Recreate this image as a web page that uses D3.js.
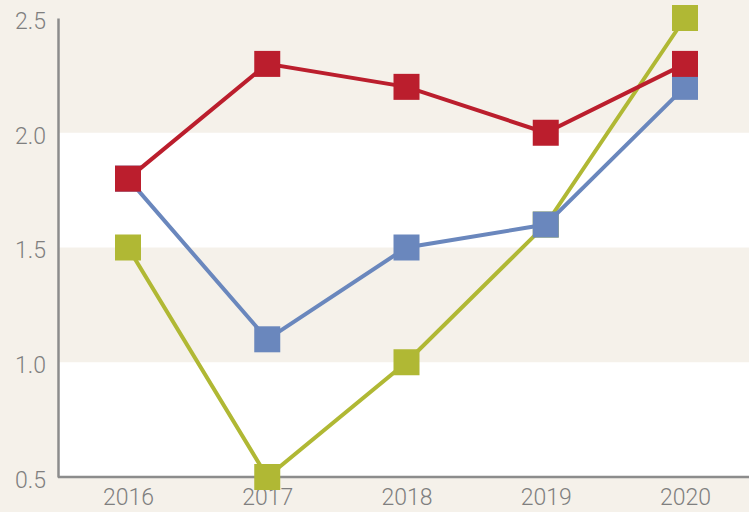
<!DOCTYPE html>
<html lang="en">
<head>
    <meta charset="UTF-8">
    <script src="https://d3js.org/d3.v7.min.js"></script>
    <style>
        body{ margin:0; background:#f5f1ea; }
        text{ font-family: Roboto, sans-serif; font-weight:300; fill:#7f7f7f; }
    </style>
    <title>Chart</title>
</head>
<body>
    <div class="canvas"></div>
</body>
<script>
    const years = ['2016','2017','2018','2019','2020'];
    const redValues = [1.8, 2.3, 2.2, 2.0, 2.3];
    const blueValues = [1.8, 1.1, 1.5, 1.6, 2.2];
    const greenValues = [1.5, 0.5, 1.0, 1.6, 2.5];
    const yTicks = [0.5, 1.0, 1.5, 2.0, 2.5];
    const bands = [[0.5, 1.0], [1.5, 2.0]];

    const width = 749;
    const height = 512;
    const [mt, mb, ml] = [18, 35, 58];
    const graphHeight = height - mt - mb;

    const svg = d3.select('.canvas')
                    .append('svg')
                    .attr('width', width)
                    .attr('height', height)
                    .style('display', 'block');

    const x = d3.scalePoint()
                .domain(years)
                .range([128, 685]);
    const y = d3.scaleLinear()
                .domain([0.5, 2.5])
                .range([mt + graphHeight, mt]);

    // white bands
    svg.selectAll('rect.band')
        .data(bands)
        .enter()
        .append('rect')
        .attr('class', 'band')
        .attr('x', ml)
        .attr('width', width - ml)
        .attr('y', d => y(d[1]))
        .attr('height', d => y(d[0]) - y(d[1]))
        .attr('fill', '#ffffff');

    // axes
    const yAxis = d3.axisLeft(y).tickValues(yTicks).tickFormat(d3.format('.1f')).tickSize(0).tickPadding(12);
    const yAxisG = svg.append('g').attr('transform', `translate(${ml},0)`).call(yAxis);
    yAxisG.select('.domain').attr('stroke', '#8c8c8c').attr('stroke-width', 2.5);
    yAxisG.selectAll('text').style('font-size', '23px').attr('fill', '#7f7f7f').attr('dy', '0.45em');

    const xAxis = d3.axisBottom(x).tickSize(0).tickPadding(12);
    const xAxisG = svg.append('g').attr('transform', `translate(0,${y(0.5)})`).call(xAxis);
    xAxisG.select('.domain').attr('d', `M${ml},0H${width}`).attr('stroke', '#8c8c8c').attr('stroke-width', 2.5);
    xAxisG.selectAll('text').style('font-size', '23px').attr('fill', '#7f7f7f');

    const series = [
        {values: greenValues, color: '#b0b834'},
        {values: blueValues, color: '#6a87bd'},
        {values: redValues, color: '#bb1e2d'}
    ];

    const line = d3.line()
                    .x((d, i) => x(years[i]))
                    .y(d => y(d));
    const size = 26;

    series.forEach(s => {
        const g = svg.append('g');
        g.append('path')
            .attr('d', line(s.values))
            .attr('fill', 'none')
            .attr('stroke', s.color)
            .attr('stroke-width', 4);
        g.selectAll('rect')
            .data(s.values)
            .enter()
            .append('rect')
            .attr('x', (d, i) => x(years[i]) - size / 2)
            .attr('y', d => y(d) - size / 2)
            .attr('width', size)
            .attr('height', size)
            .attr('fill', s.color);
    });
</script>
</html>
